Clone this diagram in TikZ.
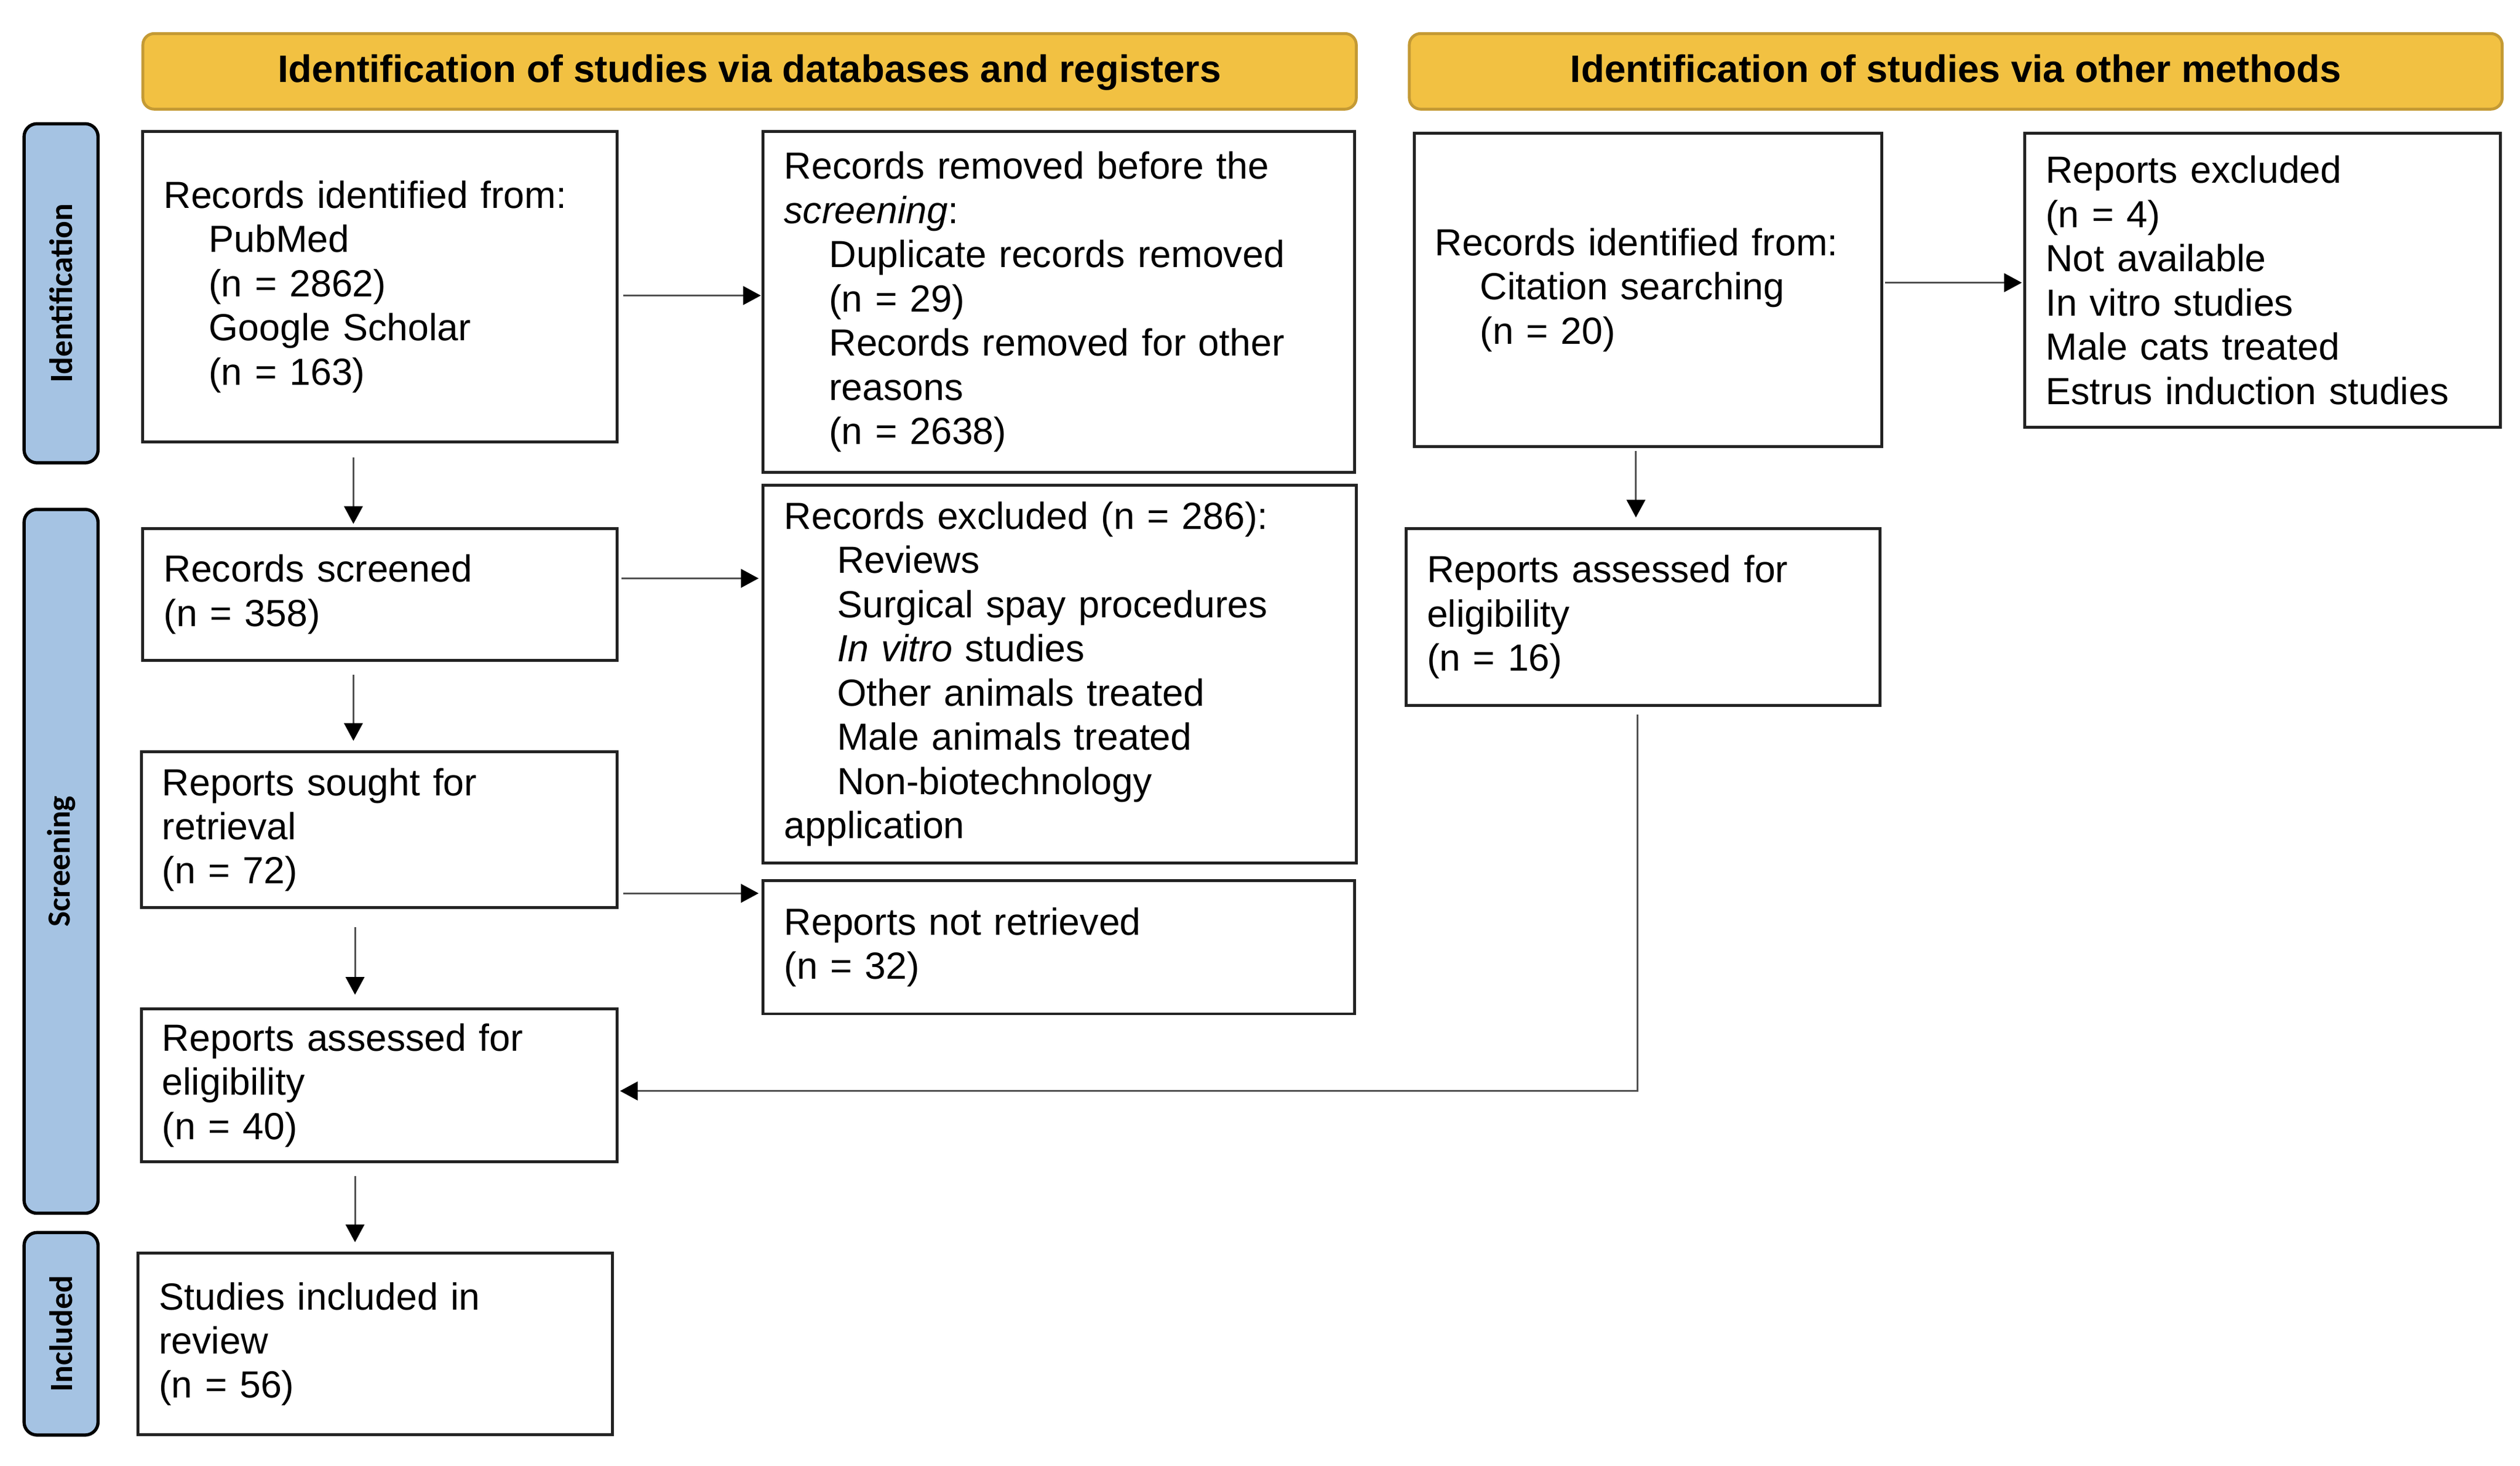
\documentclass[tikz,border=0pt]{standalone}
\usepackage{fontspec}
\setmainfont{Liberation Sans}
\newfontfamily\sidefont{Carlito}
\usetikzlibrary{arrows.meta,calc}
\definecolor{hdrfill}{RGB}{242,193,66}
\definecolor{hdrdraw}{RGB}{196,154,52}
\definecolor{sidefill}{RGB}{165,195,227}
\definecolor{boxc}{RGB}{34,34,34}
\definecolor{arrc}{RGB}{80,80,80}
\newcommand{\ind}{\hspace*{14pt}}
\newcommand{\indD}{\hspace*{16.5pt}}
\begin{document}
\begin{tikzpicture}[x=0.5pt,y=-0.5pt,
  mainfs/.style={font=\fontsize{11.75pt}{13.75pt}\selectfont},
  box/.style={draw=boxc, line width=0.9pt, fill=white, align=left,
    inner xsep=6.5pt, inner ysep=0pt, anchor=north west, mainfs},
  hdr/.style={draw=hdrdraw, line width=0.9pt, fill=hdrfill, rounded corners=3.5pt,
    anchor=north west, inner sep=0pt, minimum height=23.5pt,
    text height=8.9pt, text depth=2pt,
    font=\fontsize{11.92pt}{13.75pt}\selectfont\bfseries},
  side/.style={draw=black, line width=1pt, fill=sidefill, rounded corners=4pt,
    rotate=90, inner sep=0pt, minimum height=23pt,
    font=\fontsize{10.1pt}{12pt}\sidefont\bfseries},
  arr/.style={draw=arrc, line width=0.55pt,
    -{Triangle[width=5.8pt,length=5.5pt,color=black]}}
]
\useasboundingbox (0,0) rectangle (1568,912);

% headers
\node[hdr, minimum width=377.5pt] (h1) at (88,20) {Identification of studies via databases and registers};
\node[hdr, minimum width=340pt] (h2) at (876,20) {Identification of studies via other methods};

% side labels
\node[side, minimum width=105.5pt] (sid) at (38,182.5) {Identification};
\node[side, minimum width=219pt] (sscr) at (38,536) {Screening};
\node[side, minimum width=63pt] (sinc) at (38,830) {Included};

% boxes
\node[box, text width=134.5pt, minimum height=96.5pt] (A) at (88,81)
  {Records identified from:\\
   \ind PubMed\\
   \ind (n = 2862)\\
   \ind Google Scholar\\
   \ind (n = 163)};
\node[box, text width=171pt, minimum height=106pt] (B) at (474,81)
  {Records removed before the\\
   \textit{screening}:\\
   \ind Duplicate records removed\\
   \ind (n = 29)\\
   \ind Records removed for other\\
   \ind reasons\\
   \ind (n = 2638)};
\node[box, text width=134.5pt, minimum height=41pt] (C) at (88,328)
  {Records screened\\(n = 358)};
\node[box, text width=171.5pt, minimum height=117.5pt] (D) at (474,301)
  {Records excluded (n = 286):\\
   \indD Reviews\\
   \indD Surgical spay procedures\\
   \indD \textit{In vitro} studies\\
   \indD Other animals treated\\
   \indD Male animals treated\\
   \indD Non-biotechnology\\
   application};
\node[box, text width=135pt, minimum height=48.5pt] (E) at (87,467)
  {Reports sought for\\retrieval\\(n = 72)};
\node[box, text width=171pt, minimum height=41.5pt] (F) at (474,547)
  {Reports not retrieved\\(n = 32)};
\node[box, text width=135pt, minimum height=47.5pt] (G) at (87,627)
  {Reports assessed for\\eligibility\\(n = 40)};
\node[box, text width=134.5pt, minimum height=56.5pt] (H) at (85,779)
  {Studies included in\\review\\(n = 56)};
\node[box, text width=132.5pt, minimum height=97.5pt] (I) at (879,82)
  {Records identified from:\\
   \ind Citation searching\\
   \ind (n = 20)};
\node[box, text width=135pt, minimum height=91.5pt] (J) at (1259,82)
  {Reports excluded\\(n = 4)\\Not available\\In vitro studies\\Male cats treated\\Estrus induction studies};
\node[box, text width=134.5pt, minimum height=55pt] (K) at (874,328)
  {Reports assessed for\\eligibility\\(n = 16)};

% connectors
\draw[arr, shorten <=1.5pt, shorten >=0.3pt] ([yshift=-2.75pt]A.east) -- ([yshift=-2.75pt]A.east -| B.west);
\draw[arr, shorten <=4.5pt, shorten >=1pt] ([xshift=-8.25pt]A.south) -- ([xshift=-8.25pt]A.south |- C.north);
\draw[arr, shorten <=1pt, shorten >=1pt] ([yshift=5pt]C.east) -- ([yshift=5pt]C.east -| D.west);
\draw[arr, shorten <=4pt, shorten >=3pt] ([xshift=-8.25pt]C.south) -- ([xshift=-8.25pt]C.south |- E.north);
\draw[arr, shorten <=1.5pt, shorten >=1pt] ([yshift=-19.75pt]E.east) -- ([yshift=-19.75pt]E.east -| F.west);
\draw[arr, shorten <=5.5pt, shorten >=4pt] ([xshift=-7.5pt]E.south) -- ([xshift=-7.5pt]E.south |- G.north);
\draw[arr, shorten <=4pt, shorten >=3pt] ([xshift=-7.5pt]G.south) -- ([xshift=-7.5pt]G.south |- H.north);
\draw[arr, shorten <=0.5pt, shorten >=0.5pt] ([yshift=2.25pt]I.east) -- ([yshift=2.25pt]I.east -| J.west);
\draw[arr, shorten <=1pt, shorten >=3pt] ([xshift=-3.75pt]I.south) -- ([xshift=-3.75pt]I.south |- K.north);
\draw[arr, shorten <=2.5pt, shorten >=0.5pt] ([xshift=-1.75pt]K.south) |- ([yshift=-1.75pt]G.east);
\end{tikzpicture}
\end{document}
